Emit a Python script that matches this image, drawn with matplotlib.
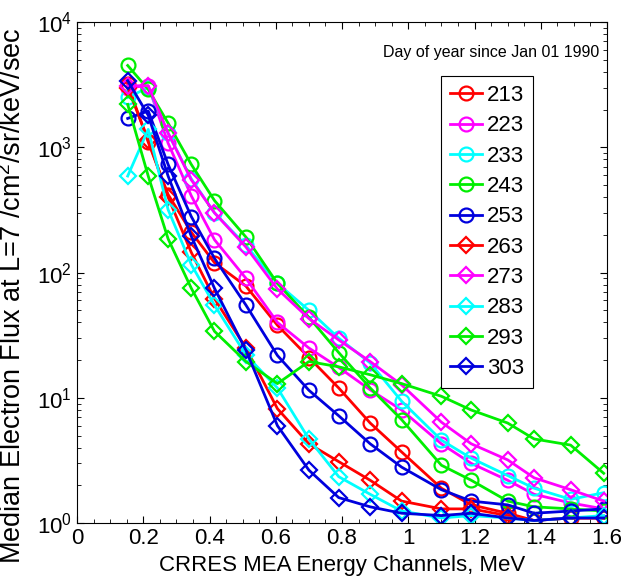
import matplotlib
matplotlib.use("Agg")
import matplotlib.pyplot as plt
from matplotlib.ticker import MultipleLocator, FuncFormatter, LogLocator, NullFormatter

plt.rcParams['font.family'] = ['Liberation Sans', 'DejaVu Sans']
plt.rcParams['mathtext.default'] = 'regular'

# CRRES MEA energy channels (MeV)
energy = [0.153, 0.215, 0.275, 0.345, 0.415, 0.51, 0.605, 0.70, 0.79,
          0.885, 0.98, 1.10, 1.19, 1.30, 1.38, 1.49, 1.59]

days = ['213', '223', '233', '243', '253', '263', '273', '283', '293', '303']

flux_213 = [3200, 1100, 420, 210, 120, 78, 38, 21, 12, 6.3, 3.7, 1.9, 1.4, 1.2, 1.05, 1.1, 1.1]
flux_223 = [3000, 3100, 1080, 410, 183, 90, 40, 25, 17.5, 11.6, 8.0, 4.3, 3.0, 2.2, 1.7, 1.45, 1.3]
flux_233 = [2500, 3000, 1300, 560, 300, 165, 82, 50, 30, 19, 9.4, 4.6, 3.3, 2.4, 1.9, 1.55, 1.75]
flux_243 = [4500, 2900, 1560, 730, 376, 192, 82, 44, 23, 12, 6.7, 2.9, 2.2, 1.5, 1.35, 1.3, 1.25]
flux_253 = [1700, 1950, 730, 280, 130, 55, 21.8, 11.5, 7.2, 4.3, 2.8, 1.85, 1.5, 1.4, 1.2, 1.25, 1.3]
flux_263 = [3000, 1150, 400, 145, 62, 25, 8.2, 4.3, 3.1, 2.2, 1.5, 1.3, 1.3, 1.15, 1.05, 1.1, 1.1]
flux_273 = [3100, 3100, 1300, 550, 300, 160, 74, 43, 29, 19.5, 12.7, 6.4, 4.3, 3.2, 2.3, 1.85, 1.5]
flux_283 = [590, 1390, 318, 116, 55, 22, 12, 4.7, 2.35, 1.7, 1.25, 1.1, 1.15, 1.1, 1.05, 1.1, 1.15]
flux_293 = [2200, 590, 186, 75, 34, 19.5, 13, 19.5, 17.7, 15.3, 13, 10.3, 8.0, 6.3, 4.7, 4.2, 2.5]
flux_303 = [3400, 1800, 590, 195, 75, 24, 6.0, 2.65, 1.6, 1.35, 1.2, 1.15, 1.2, 1.1, 1.05, 1.1, 1.1]

fluxes = [flux_213, flux_223, flux_233, flux_243, flux_253,
          flux_263, flux_273, flux_283, flux_293, flux_303]
colors = ['#ff0000', '#ff00ff', '#00ffff', '#00ee00', '#0000dd'] * 2
markers = ['o'] * 5 + ['D'] * 5

fig = plt.figure(figsize=(6.21, 5.8), dpi=100)
ax = fig.add_axes([0.124, 0.098, 0.8535, 0.864])

for day, flux, c, m in zip(days, fluxes, colors, markers):
    ax.semilogy(energy, flux, color=c, marker=m, markersize=10 if m == 'o' else 8,
                markerfacecolor='none', markeredgecolor=c, markeredgewidth=1.6,
                linewidth=2.0, label=day)

ax.set_xlim(0, 1.6)
ax.set_ylim(1, 1e4)
ax.xaxis.set_major_locator(MultipleLocator(0.2))
ax.xaxis.set_minor_locator(MultipleLocator(0.05))
ax.xaxis.set_major_formatter(FuncFormatter(lambda v, p: f'{v:g}'))
ax.yaxis.set_major_locator(LogLocator(base=10, numticks=10))
ax.yaxis.set_minor_locator(LogLocator(base=10, subs=range(2, 10), numticks=10))
ax.yaxis.set_minor_formatter(NullFormatter())
ax.tick_params(which='both', direction='in', top=True, right=True, labelsize=16)
ax.tick_params(which='major', length=5, width=0.8)
ax.tick_params(which='minor', length=3, width=0.6)

ax.set_xlabel('CRRES MEA Energy Channels, MeV', fontsize=16)
ax.set_ylabel('Median Electron Flux at L=7 /cm$^2$/sr/keV/sec', fontsize=19.5)
ax.yaxis.set_label_coords(-0.094, 0.455)

ax.text(0.985, 0.94, 'Day of year since Jan 01 1990', transform=ax.transAxes,
        ha='right', va='center', fontsize=11.5)

leg = ax.legend(loc='upper right', bbox_to_anchor=(0.86, 0.892), borderaxespad=0,
                fontsize=16, handlelength=1.45, handletextpad=0.2, labelspacing=0.42,
                borderpad=0.4, fancybox=False, framealpha=1, edgecolor='black')
leg.get_frame().set_linewidth(0.8)

fig.savefig('out.png', dpi=100)
